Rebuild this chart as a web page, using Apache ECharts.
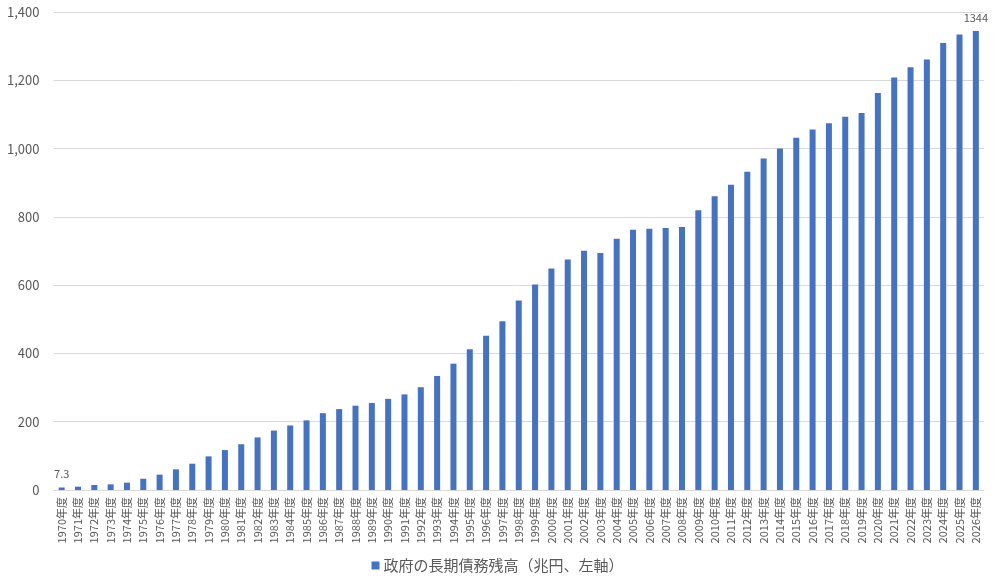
<!DOCTYPE html>
<html>
<head>
<meta charset="utf-8">
<script src="https://cdn.jsdelivr.net/npm/echarts@6/dist/echarts.min.js"></script>
<style>
html,body{margin:0;padding:0;background:#fff;}
#bar{width:995px;height:584px;}
</style>
</head>
<body>
<div id="bar"></div>
<script>
var years = [];
for (var y = 1970; y <= 2026; y++) { years.push(y + '年度'); }

var debt = [
	7.3, 9.8, 14.6, 16.6, 21.5, 33, 45, 60.5, 77, 98.5,
	117, 134, 154, 174, 189, 204, 225, 237, 247, 255,
	267, 280, 301, 334, 370, 412, 452, 494, 555, 602,
	649, 675, 701, 694, 736, 762, 765, 767, 770, 819,
	860, 894, 932, 971, 1000, 1032, 1056, 1074, 1093, 1104,
	1163, 1208, 1238, 1261, 1309, 1334, 1344
];

var yTicks = { min: 0, max: 1400, interval: 200 };
var labelled = [0, debt.length - 1];

window.onload = function(){
	var myChart = echarts.init(document.getElementById('bar'));
	var font = '"Noto Sans CJK JP", "Noto Sans", sans-serif';
	var option = {
		textStyle:{ fontFamily: font },
		animation:false,
		grid:{
			left:53.5,
			right:11,
			top:12,
			bottom:94,
			containLabel:false
		},
		legend:{
			bottom:6,
			left:'center',
			icon:'rect',
			itemWidth:8,
			itemHeight:8,
			itemGap:4,
			textStyle:{ color:'#595959', fontSize:15, fontFamily: font, padding:[0,0,0,-1] },
			data:['政府の長期債務残高（兆円、左軸）']
		},
		xAxis:{
			type:'category',
			data:years,
			axisLine:{ lineStyle:{ color:'#d9d9d9' } },
			axisTick:{ show:false },
			axisLabel:{
				rotate:90,
				interval:0,
				color:'#595959',
				fontSize:11,
				margin:7
			}
		},
		yAxis:{
			type:'value',
			min:yTicks.min,
			max:yTicks.max,
			interval:yTicks.interval,
			axisLine:{ show:false },
			axisTick:{ show:false },
			splitLine:{ lineStyle:{ color:'#d9d9d9' } },
			axisLabel:{
				color:'#595959',
				fontSize:13,
				margin:14,
				formatter:function(v){ return v.toLocaleString('en-US'); }
			}
		},
		series:[{
			name:'政府の長期債務残高（兆円、左軸）',
			type:'bar',
			barWidth:6,
			itemStyle:{ color:'#4472c4' },
			data:debt.map(function(v, i){
				if (labelled.indexOf(i) >= 0) {
					return {
						value:v,
						label:{ show:true, position:'top', color:'#595959', fontSize:11, distance:8 }
					};
				}
				return v;
			})
		}]
	};
	myChart.setOption(option);
	window.addEventListener('resize',function(){
		myChart.resize()
	})
}
</script>
</body>
</html>
